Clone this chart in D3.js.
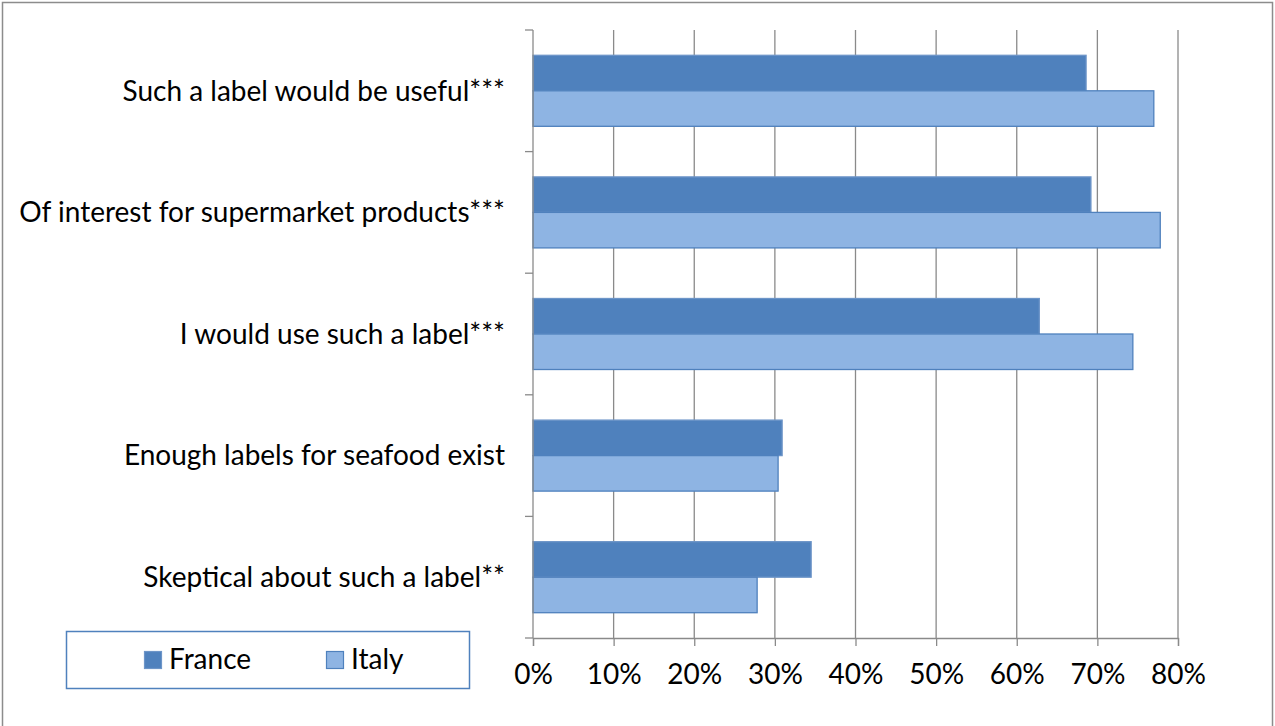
<!DOCTYPE html>
<html>
<head>
<meta charset="utf-8">
<script src="https://cdn.jsdelivr.net/npm/d3@7/dist/d3.min.js"></script>
<style>
  html, body { margin: 0; padding: 0; background: #fff; }
  svg { display: block; }
  text { font-family: Lato, "Open Sans", sans-serif; fill: #000; }
</style>
</head>
<body>
<svg id="chart" width="1275" height="726"></svg>
<script>
// Survey statements, top to bottom
const categories = [
  "Such a label would be useful***",
  "Of interest for supermarket products***",
  "I would use such a label***",
  "Enough labels for seafood exist",
  "Skeptical about such a label**"
];
const seriesNames = ["France", "Italy"];
// Share of respondents agreeing (%)
const franceValues = [68.6, 69.2, 62.8, 30.9, 34.5];
const italyValues  = [77.0, 77.8, 74.4, 30.4, 27.8];
const xTicks = [0, 10, 20, 30, 40, 50, 60, 70, 80];

const colors = { France: "#4F81BD", Italy: "#8EB4E3" };
const strokes = { France: "#6D95C8", Italy: "#4F81BD" };

const rows = categories.map((c, i) => ({
  category: c,
  France: franceValues[i],
  Italy: italyValues[i]
}));

const svg = d3.select("#chart");
const W = 1275, H = 726;
const plot = { left: 533, right: 1178, top: 30, bottom: 638 };
const fontSize = 28;

// outer chart frame (bottom edge runs past the canvas)
svg.append("rect")
  .attr("x", 2.5).attr("y", 2.5)
  .attr("width", W - 5).attr("height", H + 10)
  .attr("fill", "none").attr("stroke", "#8c8c8c").attr("stroke-width", 1.5);

const x = d3.scaleLinear().domain([0, 80]).range([plot.left, plot.right]);
const y = d3.scaleBand().domain(categories)
  .range([plot.top, plot.bottom])
  .paddingInner(0.416).paddingOuter(0.208);
const ySeries = d3.scaleBand().domain(seriesNames).range([0, y.bandwidth()]);

// vertical gridlines
svg.append("g")
  .selectAll("line")
  .data(xTicks.filter(t => t > 0))
  .join("line")
  .attr("x1", d => x(d)).attr("x2", d => x(d))
  .attr("y1", plot.top).attr("y2", plot.bottom)
  .attr("stroke", "#8a8a8a").attr("stroke-width", 1.3);

// bars
const groups = svg.append("g")
  .selectAll("g")
  .data(rows)
  .join("g")
  .attr("transform", d => `translate(0,${y(d.category)})`);

groups.selectAll("rect")
  .data(d => seriesNames.map(s => ({ key: s, value: d[s] })))
  .join("rect")
  .attr("x", x(0))
  .attr("y", d => ySeries(d.key))
  .attr("width", d => x(d.value) - x(0))
  .attr("height", ySeries.bandwidth())
  .attr("fill", d => colors[d.key])
  .attr("stroke", d => strokes[d.key])
  .attr("stroke-width", 1.3);

// bottom axis
const xAxis = d3.axisBottom(x)
  .tickValues(xTicks)
  .tickSize(8)
  .tickPadding(18)
  .tickFormat(d => d + "%");

const gx = svg.append("g")
  .attr("transform", `translate(0,${plot.bottom})`)
  .call(xAxis);
gx.select(".domain").attr("stroke", "#8a8a8a").attr("stroke-width", 1.3);
gx.selectAll(".tick line").attr("stroke", "#8a8a8a").attr("stroke-width", 1.3);
gx.selectAll(".tick text")
  .attr("font-size", fontSize)
  .attr("font-family", "Lato, sans-serif")
  .attr("fill", "#000");

// left category axis: line, boundary ticks and labels
svg.append("line")
  .attr("x1", plot.left).attr("x2", plot.left)
  .attr("y1", plot.top).attr("y2", plot.bottom)
  .attr("stroke", "#8a8a8a").attr("stroke-width", 1.3);

const step = y.step();
svg.append("g")
  .selectAll("line")
  .data(d3.range(categories.length + 1))
  .join("line")
  .attr("x1", plot.left - 8).attr("x2", plot.left)
  .attr("y1", i => plot.top + i * step).attr("y2", i => plot.top + i * step)
  .attr("stroke", "#8a8a8a").attr("stroke-width", 1.3);

svg.append("g")
  .selectAll("text")
  .data(categories)
  .join("text")
  .attr("x", 505)
  .attr("y", d => y(d) + y.bandwidth() / 2)
  .attr("dy", "0.35em")
  .attr("text-anchor", "end")
  .attr("font-size", fontSize)
  .text(d => d);

// legend
const legend = svg.append("g");
legend.append("rect")
  .attr("x", 66.5).attr("y", 631.5)
  .attr("width", 403).attr("height", 57)
  .attr("fill", "#fff").attr("stroke", "#4F81BD").attr("stroke-width", 1.5);

const legendX = { France: 144, Italy: 326 };
seriesNames.forEach(s => {
  legend.append("rect")
    .attr("x", legendX[s] + 0.5).attr("y", 651.5)
    .attr("width", 17).attr("height", 17)
    .attr("fill", colors[s]).attr("stroke", strokes[s]).attr("stroke-width", 1.2);
  legend.append("text")
    .attr("x", legendX[s] + 25).attr("y", 669)
    .attr("font-size", fontSize)
    .text(s);
});
</script>
</body>
</html>
